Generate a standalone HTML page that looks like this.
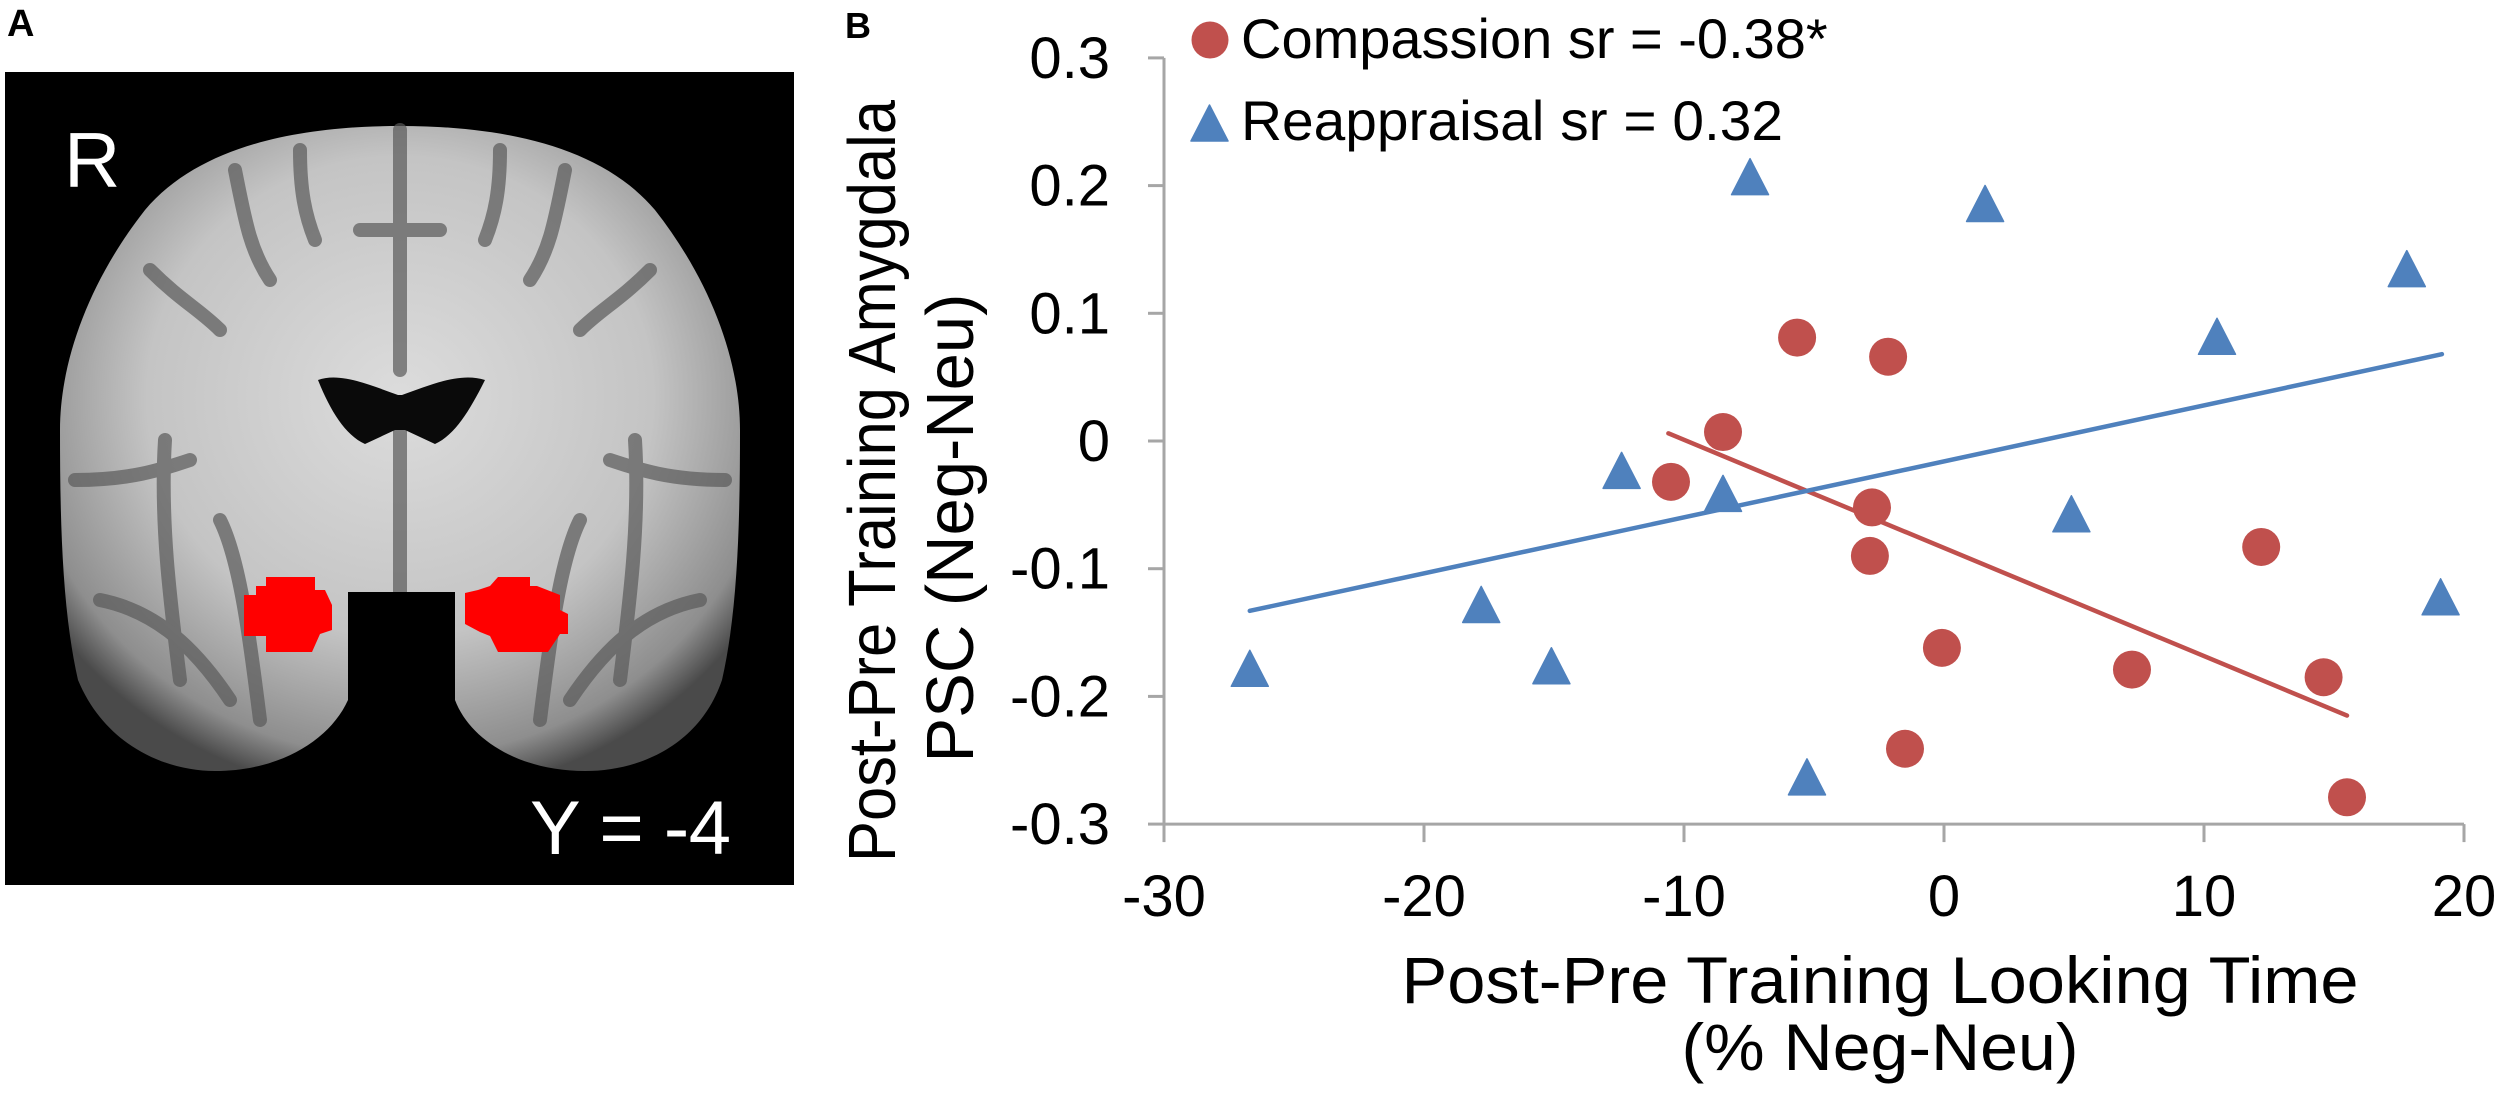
<!DOCTYPE html>
<html><head><meta charset="utf-8">
<style>
html,body{margin:0;padding:0;background:#fff;}
svg{display:block;font-family:"Liberation Sans",Arial,sans-serif;}
</style></head>
<body>
<svg id="fig" width="2500" height="1099" viewBox="0 0 2500 1099" xmlns="http://www.w3.org/2000/svg">
  <defs>
    <radialGradient id="wm" cx="0.5" cy="0.42" r="0.62">
      <stop offset="0" stop-color="#dcdcdc"/>
      <stop offset="0.6" stop-color="#c4c4c4"/>
      <stop offset="0.9" stop-color="#8e8e8e"/>
      <stop offset="1" stop-color="#4a4a4a"/>
    </radialGradient>
  </defs>
  <!-- Panel A -->
  <text x="7" y="36" font-size="38" font-weight="bold">A</text>
  <g>
    <rect x="5" y="72" width="789" height="813" fill="#000"/>
    <path fill="url(#wm)" d="M400,126 C300,126 200,145 145,210 C90,280 60,360 60,430 C60,520 62,610 78,680 C105,745 165,771 215,771 C280,771 330,740 348,700 L350,600 L452,600 L455,700 C470,740 520,771 585,771 C640,771 700,745 722,680 C738,610 740,520 740,430 C740,360 710,280 655,210 C600,145 500,126 400,126 Z"/>
    <g stroke="#5a5a5a" stroke-width="14" fill="none" stroke-linecap="round" opacity="0.7">
      <path d="M400,130 L400,370"/>
      <path d="M235,170 C245,220 250,250 270,280"/>
      <path d="M565,170 C555,220 550,250 530,280"/>
      <path d="M300,150 C300,190 305,215 315,240"/>
      <path d="M500,150 C500,190 495,215 485,240"/>
      <path d="M150,270 C180,300 200,310 220,330"/>
      <path d="M650,270 C620,300 600,310 580,330"/>
      <path d="M360,230 L440,230"/>
      <path d="M75,480 C130,480 160,470 190,460"/>
      <path d="M725,480 C670,480 640,470 610,460"/>
      <path d="M165,440 C160,520 170,600 180,680"/>
      <path d="M635,440 C640,520 630,600 620,680"/>
      <path d="M100,600 C150,610 190,640 230,700"/>
      <path d="M700,600 C650,610 610,640 570,700"/>
      <path d="M400,430 L400,600"/>
      <path d="M220,520 C240,560 250,640 260,720"/>
      <path d="M580,520 C560,560 550,640 540,720"/>
    </g>
    <path fill="#0a0a0a" d="M318,380 C340,372 370,385 398,395 L402,395 C430,385 460,372 485,380 C470,410 455,435 435,444 L405,430 L395,430 L365,444 C345,435 330,410 318,380 Z"/>
    <rect x="348" y="592" width="107" height="190" fill="#000"/>
    <path fill="#ff0000" d="M266,577 L315,577 L315,590 L325,590 L332,605 L332,630 L320,634 L312,652 L266,652 L266,636 L244,636 L244,595 L256,595 L256,586 L266,586 Z"/>
    <path fill="#ff0000" d="M498,577 L530,577 L530,586 L537,586 L560,595 L560,610 L568,614 L568,634 L560,634 L548,652 L498,652 L490,636 L480,632 L465,624 L465,593 L478,590 L490,586 Z"/>
    <text x="64" y="187" font-size="78" fill="#fff">R</text>
    <text x="731" y="854" font-size="76" fill="#fff" text-anchor="end" textLength="201">Y = -4</text>
  </g>

  <!-- Panel B -->
  <text x="845" y="38" font-size="36" font-weight="bold">B</text>
  <g id="chart"></g>
</svg>
<script>
// ---- data ----
var xTicks = [-30, -20, -10, 0, 10, 20];
var xTickLabels = ["-30", "-20", "-10", "0", "10", "20"];
var yTicks = [0.3, 0.2, 0.1, 0, -0.1, -0.2, -0.3];
var yTickLabels = ["0.3", "0.2", "0.1", "0", "-0.1", "-0.2", "-0.3"];
var compassionX = [-10.5, -8.5, -5.65, -2.15, -2.77, -2.85, -0.08, -1.5, 7.23, 12.2, 14.6, 15.5];
var compassionY = [-0.032, 0.007, 0.081, 0.066, -0.052, -0.090, -0.162, -0.241, -0.179, -0.083, -0.185, -0.279];
var reappraisalX = [-26.7, -17.8, -15.1, -12.4, -8.5, -7.46, -5.27, 1.58, 4.9, 10.5, 17.8, 19.1];
var reappraisalY = [-0.178, -0.128, -0.176, -0.023, -0.041, 0.207, -0.263, 0.186, -0.057, 0.082, 0.135, -0.122];
var compassionFitX = [-10.6, 15.5];
var compassionFitY = [0.006, -0.215];
var reappraisalFitX = [-26.7, 19.15];
var reappraisalFitY = [-0.133, 0.068];

// ---- axes ----
var X0 = 1944, XS = 26;
var Y0 = 441, YS = 1277;
function sx(v){ return X0 + XS * v; }
function sy(v){ return Y0 - YS * v; }
var NS = "http://www.w3.org/2000/svg";
var chart = document.getElementById("chart");
function mk(tag, attrs, parent){
  var e = document.createElementNS(NS, tag);
  for (var k in attrs) e.setAttribute(k, attrs[k]);
  (parent || chart).appendChild(e);
  return e;
}
var AX = "#a6a6a6";
var xMin = xTicks[0], xMax = xTicks[xTicks.length-1];
var yMin = yTicks[yTicks.length-1], yMax = yTicks[0];

var yAxis = mk("line", {x1: sx(xMin), y1: sy(yMax), x2: sx(xMin), y2: sy(yMin), stroke: AX, "stroke-width": 3});


var xAxis = mk("line", {x1: sx(xMin), y1: sy(yMin), x2: sx(xMax), y2: sy(yMin), stroke: AX, "stroke-width": 3});



yTicks.forEach(function(v, i){
  var t = mk("line", {x1: sx(xMin) - 16, y1: sy(v), x2: sx(xMin), y2: sy(v), stroke: AX, "stroke-width": 3});
  
  
  var l = mk("text", {x: 1110, y: sy(v) + 20, "font-size": 58, "text-anchor": "end", fill: "#000"});
  l.textContent = yTickLabels[i];
  
  
});
xTicks.forEach(function(v, i){
  var t = mk("line", {x1: sx(v), y1: sy(yMin), x2: sx(v), y2: sy(yMin) + 18, stroke: AX, "stroke-width": 3});
  
  
  var l = mk("text", {x: sx(v), y: 916, "font-size": 58, "text-anchor": "middle", fill: "#000"});
  l.textContent = xTickLabels[i];
  
  
});

// axis titles
var xt1 = mk("text", {x: 1880, y: 1003, "font-size": 66, "text-anchor": "middle", textLength: 957, lengthAdjust: "spacingAndGlyphs"});
xt1.textContent = "Post-Pre Training Looking Time";


var xt2 = mk("text", {x: 1880, y: 1070, "font-size": 66, "text-anchor": "middle", textLength: 397, lengthAdjust: "spacingAndGlyphs"});
xt2.textContent = "(% Neg-Neu)";


var yt1 = mk("text", {x: 0, y: 0, "font-size": 67, "text-anchor": "middle", transform: "translate(895,481) rotate(-90)", textLength: 762, lengthAdjust: "spacingAndGlyphs"});
yt1.textContent = "Post-Pre Training Amygdala";


var yt2 = mk("text", {x: 0, y: 0, "font-size": 67, "text-anchor": "middle", transform: "translate(973,528) rotate(-90)", textLength: 469, lengthAdjust: "spacingAndGlyphs"});
yt2.textContent = "PSC (Neg-Neu)";



// trend lines
var RED = "#c0504d", BLUE = "#4f81bd";
var fr = mk("line", {x1: sx(compassionFitX[0]), y1: sy(compassionFitY[0]), x2: sx(compassionFitX[1]), y2: sy(compassionFitY[1]), stroke: RED, "stroke-width": 4.5, "stroke-linecap": "round"});


var fb = mk("line", {x1: sx(reappraisalFitX[0]), y1: sy(reappraisalFitY[0]), x2: sx(reappraisalFitX[1]), y2: sy(reappraisalFitY[1]), stroke: BLUE, "stroke-width": 4.5, "stroke-linecap": "round"});



function tri(cx, cy){
  return (cx) + "," + (cy - 18) + " " + (cx - 18.5) + "," + (cy + 18) + " " + (cx + 18.5) + "," + (cy + 18);
}
reappraisalX.forEach(function(v, i){
  var p = mk("polygon", {points: tri(sx(v), sy(reappraisalY[i])), fill: BLUE, "stroke": BLUE, "stroke-width": 1.5, "stroke-linejoin": "round"});
  
  
});
compassionX.forEach(function(v, i){
  var c = mk("circle", {cx: sx(v), cy: sy(compassionY[i]), r: 19, fill: RED});
  
  
});

// legend
var lg = mk("g", {});


var lc = mk("circle", {cx: 1210, cy: 40, r: 18.5, fill: RED}, lg);


var lct = mk("text", {x: 1241, y: 58, "font-size": 56}, lg);
lct.textContent = "Compassion sr = -0.38*";


var lr = mk("polygon", {points: tri(1209.5, 123), fill: BLUE, stroke: BLUE, "stroke-width": 1.5, "stroke-linejoin": "round"}, lg);


var lrt = mk("text", {x: 1241, y: 140, "font-size": 56, textLength: 542, lengthAdjust: "spacingAndGlyphs"}, lg);
lrt.textContent = "Reappraisal sr = 0.32";


</script>
</body></html>
